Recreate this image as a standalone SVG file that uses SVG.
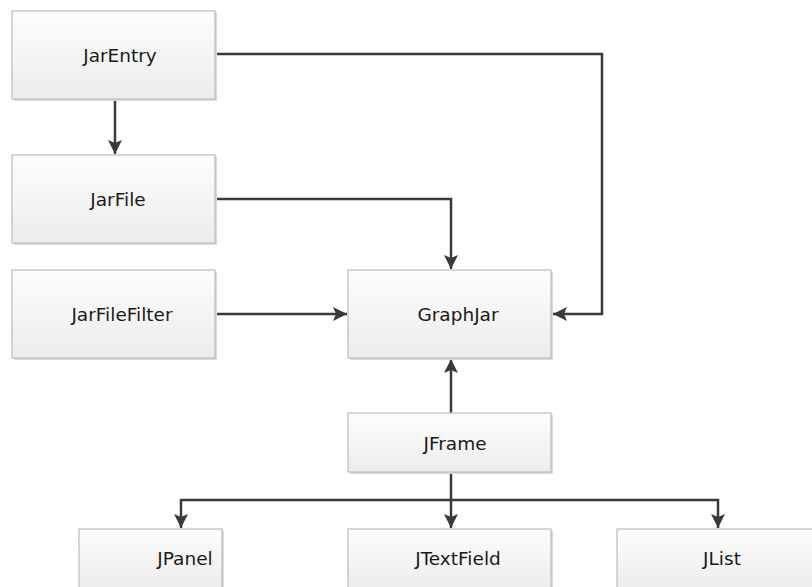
<svg xmlns="http://www.w3.org/2000/svg" width="812" height="587" viewBox="0 0 812 587">
<defs>
<linearGradient id="g" x1="0" y1="0" x2="0" y2="1">
<stop offset="0" stop-color="#fdfdfd"/>
<stop offset="1" stop-color="#ececec"/>
</linearGradient>
<marker id="a" markerWidth="14" markerHeight="14" viewBox="0 0 14 14" refX="14" refY="7" orient="auto" markerUnits="userSpaceOnUse">
<path d="M0,0 L14,7 L0,14 L3,7 Z" fill="#3a3a3a"/>
</marker>
<style>
.sh{fill:#dadada}
.bx{fill:url(#g);stroke:#bdbdbd;stroke-width:1.2}
.t{font-family:"DejaVu Sans",sans-serif;font-size:18.5px;fill:#1a1a1a;text-anchor:middle;dominant-baseline:central}
.c{fill:none;stroke:#3a3a3a;stroke-width:2.5}
</style>
</defs>
<rect width="812" height="587" fill="#ffffff"/>
<g id="connectors">
<path class="c" d="M215,54 H602 V314 H553" marker-end="url(#a)"/>
<path class="c" d="M115,99 V154" marker-end="url(#a)"/>
<path class="c" d="M215,199 H451 V269" marker-end="url(#a)"/>
<path class="c" d="M215,314 H347" marker-end="url(#a)"/>
<path class="c" d="M451,413 V359" marker-end="url(#a)"/>
<path class="c" d="M451,472 V528" marker-end="url(#a)"/>
<path class="c" d="M451,500 H181 V528" marker-end="url(#a)"/>
<path class="c" d="M451,500 H718 V528" marker-end="url(#a)"/>
</g>
<g id="JarEntry"><rect class="sh" x="14" y="13" width="203" height="88"/><rect class="bx" x="12" y="11" width="203" height="88"/><text class="t" x="120" y="55">JarEntry</text></g>
<g id="JarFile"><rect class="sh" x="14" y="157" width="203" height="88"/><rect class="bx" x="12" y="155" width="203" height="88"/><text class="t" x="118" y="199">JarFile</text></g>
<g id="JarFileFilter"><rect class="sh" x="14" y="272" width="203" height="88"/><rect class="bx" x="12" y="270" width="203" height="88"/><text class="t" x="122" y="314">JarFileFilter</text></g>
<g id="GraphJar"><rect class="sh" x="350" y="272" width="203" height="88"/><rect class="bx" x="348" y="270" width="203" height="88"/><text class="t" x="458" y="314">GraphJar</text></g>
<g id="JFrame"><rect class="sh" x="350" y="415" width="203" height="59"/><rect class="bx" x="348" y="413" width="203" height="59"/><text class="t" x="455" y="443">JFrame</text></g>
<g id="JPanel"><rect class="sh" x="81" y="531" width="143" height="60"/><rect class="bx" x="79" y="529" width="143" height="62"/><text class="t" x="185" y="558">JPanel</text></g>
<g id="JTextField"><rect class="sh" x="350" y="531" width="203" height="60"/><rect class="bx" x="348" y="529" width="203" height="62"/><text class="t" x="458" y="558">JTextField</text></g>
<g id="JList"><rect class="sh" x="619" y="531" width="203" height="60"/><rect class="bx" x="617" y="529" width="203" height="62"/><text class="t" x="722" y="558">JList</text></g>
</svg>
